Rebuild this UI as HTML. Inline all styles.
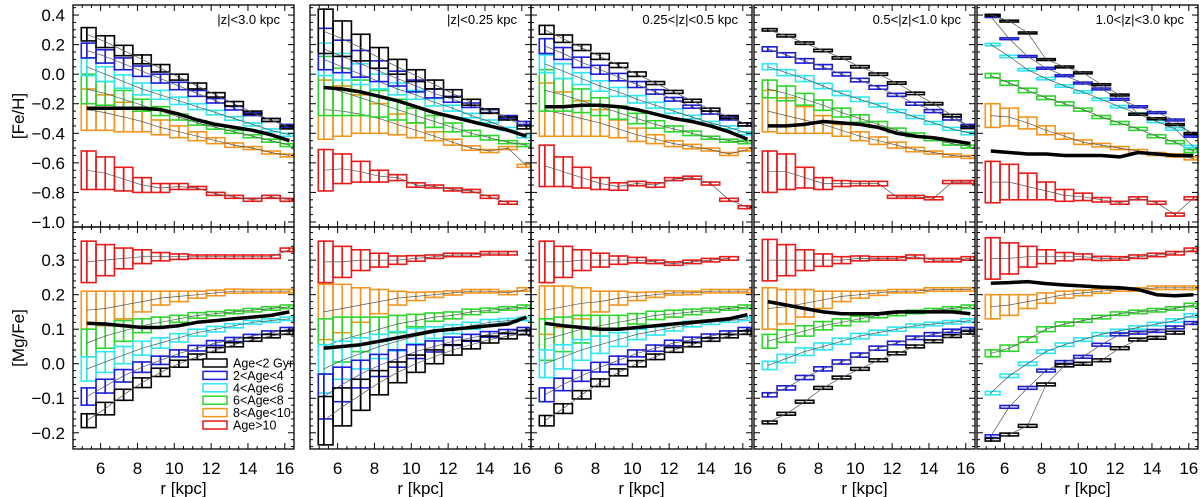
<!DOCTYPE html>
<html><head><meta charset="utf-8"><style>
body{margin:0;background:#fff;}
svg{display:block;font-family:"Liberation Sans",sans-serif;}
</style></head><body>
<svg id="chart" width="1200" height="497" viewBox="0 0 1200 497" xmlns="http://www.w3.org/2000/svg">
<text x="0" y="0" transform="translate(24,116) rotate(-90)" text-anchor="middle" font-size="17">[Fe/H]</text>
<text x="0" y="0" transform="translate(24,338) rotate(-90)" text-anchor="middle" font-size="17">[Mg/Fe]</text>
<g id="plots"></g>
</svg>
<script>
const radii = [5,6,7,8,9,10,11,12,13,14,15,16];
const seriesNames = ["Age<2 Gyr","2<Age<4","4<Age<6","6<Age<8","8<Age<10","Age>10"];
const seriesColors = ["#000000","#1c1cd8","#30e6f0","#2ed62e","#f29620","#e81a1a"];
const panelLabels = ["|z|<3.0 kpc","|z|<0.25 kpc","0.25<|z|<0.5 kpc","0.5<|z|<1.0 kpc","1.0<|z|<3.0 kpc"];
const xTicks = [6,8,10,12,14,16];
const fehTicks = [0.4,0.2,0.0,-0.2,-0.4,-0.6,-0.8,-1.0];
const fehTickLabels = ["0.4","0.2","0.0","\u22120.2","\u22120.4","\u22120.6","\u22120.8","\u22121.0"];
const mgTicks = [0.3,0.2,0.1,0.0,-0.1,-0.2];
const mgTickLabels = ["0.3","0.2","0.1","0.0","\u22120.1","\u22120.2"];

const fehMean1 = [
 [0.27,0.22,0.16,0.10,0.04,-0.02,-0.08,-0.14,-0.2,-0.26,-0.31,-0.36],
 [0.16,0.12,0.07,0.02,-0.03,-0.08,-0.13,-0.18,-0.23,-0.27,-0.31,-0.35],
 [0.05,0.0,-0.05,-0.1,-0.14,-0.18,-0.22,-0.26,-0.3,-0.34,-0.38,-0.41],
 [-0.1,-0.13,-0.17,-0.21,-0.25,-0.29,-0.33,-0.36,-0.39,-0.42,-0.45,-0.48],
 [-0.24,-0.26,-0.29,-0.32,-0.36,-0.39,-0.42,-0.45,-0.48,-0.5,-0.53,-0.55],
 [-0.65,-0.67,-0.71,-0.75,-0.77,-0.76,-0.77,-0.81,-0.83,-0.85,-0.83,-0.85]];
const fehErr1 = [
 [0.045,0.04,0.035,0.03,0.025,0.02,0.02,0.015,0.015,0.01,0.01,0.01],
 [0.05,0.045,0.04,0.035,0.03,0.025,0.02,0.015,0.012,0.01,0.01,0.01],
 [0.06,0.05,0.045,0.04,0.03,0.025,0.02,0.015,0.012,0.01,0.01,0.01],
 [0.1,0.08,0.06,0.04,0.03,0.02,0.015,0.012,0.01,0.01,0.01,0.01],
 [0.14,0.12,0.1,0.07,0.05,0.04,0.03,0.02,0.015,0.01,0.01,0.01],
 [0.13,0.11,0.08,0.05,0.03,0.02,0.01,0.01,0.01,0.01,0.01,0.01]];
const fehAll1 = [-0.23,-0.23,-0.23,-0.23,-0.24,-0.27,-0.31,-0.34,-0.36,-0.38,-0.41,-0.45];

const fehMean2 = [
 [0.29,0.24,0.18,0.11,0.05,-0.01,-0.07,-0.13,-0.19,-0.25,-0.3,-0.36],
 [0.17,0.12,0.07,0.02,-0.03,-0.08,-0.13,-0.17,-0.21,-0.25,-0.29,-0.33],
 [0.1,0.05,0.0,-0.05,-0.1,-0.14,-0.19,-0.23,-0.28,-0.32,-0.37,-0.42],
 [-0.08,-0.12,-0.16,-0.2,-0.24,-0.28,-0.32,-0.36,-0.4,-0.43,-0.46,-0.48],
 [-0.24,-0.25,-0.27,-0.3,-0.34,-0.38,-0.42,-0.46,-0.5,-0.52,-0.5,-0.62],
 [-0.65,-0.64,-0.66,-0.69,-0.7,-0.75,-0.76,-0.78,-0.79,-0.83,-0.87,null]];
const fehErr2 = [
 [0.15,0.12,0.09,0.07,0.05,0.04,0.03,0.025,0.02,0.015,0.01,0.01],
 [0.14,0.11,0.09,0.07,0.05,0.04,0.03,0.02,0.015,0.01,0.01,0.01],
 [0.11,0.09,0.07,0.05,0.04,0.03,0.025,0.02,0.015,0.01,0.01,0.01],
 [0.2,0.16,0.12,0.09,0.07,0.05,0.04,0.03,0.02,0.015,0.01,0.01],
 [0.2,0.17,0.13,0.1,0.07,0.05,0.03,0.02,0.015,0.01,0.01,0.01],
 [0.14,0.1,0.07,0.04,0.02,0.015,0.01,0.01,0.01,0.01,0.01,0.01]];
const fehAll2 = [-0.09,-0.1,-0.12,-0.15,-0.18,-0.22,-0.26,-0.29,-0.32,-0.35,-0.38,-0.42];

const fehMean3 = [
 [0.3,0.24,0.18,0.12,0.06,0.0,-0.06,-0.12,-0.18,-0.24,-0.29,-0.34],
 [0.19,0.14,0.08,0.03,-0.02,-0.07,-0.12,-0.17,-0.22,-0.26,-0.3,-0.34],
 [0.07,0.02,-0.03,-0.08,-0.12,-0.17,-0.21,-0.25,-0.29,-0.33,-0.36,-0.4],
 [-0.11,-0.14,-0.18,-0.22,-0.26,-0.3,-0.34,-0.37,-0.4,-0.43,-0.45,-0.46],
 [-0.24,-0.27,-0.3,-0.33,-0.37,-0.41,-0.44,-0.47,-0.49,-0.51,-0.54,-0.51],
 [-0.62,-0.66,-0.7,-0.74,-0.76,-0.74,-0.75,-0.71,-0.7,-0.74,-0.85,-0.9]];
const fehErr3 = [
 [0.03,0.025,0.02,0.02,0.015,0.015,0.01,0.01,0.01,0.01,0.01,0.01],
 [0.05,0.04,0.035,0.03,0.025,0.02,0.015,0.012,0.01,0.01,0.01,0.01],
 [0.06,0.05,0.04,0.035,0.03,0.025,0.02,0.015,0.012,0.01,0.01,0.01],
 [0.14,0.11,0.08,0.06,0.045,0.035,0.025,0.02,0.015,0.01,0.01,0.01],
 [0.18,0.15,0.12,0.09,0.06,0.045,0.03,0.02,0.015,0.01,0.01,0.01],
 [0.14,0.1,0.07,0.04,0.025,0.015,0.015,0.01,0.01,0.01,0.01,0.01]];
const fehAll3 = [-0.22,-0.22,-0.21,-0.21,-0.22,-0.24,-0.27,-0.3,-0.32,-0.35,-0.39,-0.44];

const fehMean4 = [
 [0.3,0.26,0.21,0.16,0.11,0.05,0.0,-0.06,-0.13,-0.2,-0.28,-0.36],
 [0.17,0.13,0.09,0.05,0.0,-0.04,-0.09,-0.14,-0.2,-0.25,-0.3,-0.35],
 [0.05,0.01,-0.03,-0.08,-0.13,-0.17,-0.21,-0.25,-0.29,-0.33,-0.37,-0.4],
 [-0.1,-0.13,-0.17,-0.21,-0.26,-0.3,-0.34,-0.38,-0.41,-0.44,-0.47,-0.49],
 [-0.25,-0.28,-0.31,-0.34,-0.38,-0.42,-0.45,-0.48,-0.51,-0.53,-0.55,-0.56],
 [-0.66,-0.66,-0.7,-0.74,-0.74,-0.74,-0.74,-0.83,-0.83,-0.84,-0.73,-0.73]];
const fehErr4 = [
 [0.008,0.008,0.008,0.008,0.008,0.008,0.008,0.008,0.008,0.008,0.008,0.008],
 [0.015,0.015,0.015,0.015,0.012,0.012,0.012,0.01,0.01,0.01,0.01,0.01],
 [0.02,0.02,0.02,0.018,0.015,0.015,0.012,0.01,0.01,0.01,0.01,0.01],
 [0.06,0.05,0.04,0.035,0.03,0.025,0.02,0.015,0.012,0.01,0.01,0.01],
 [0.14,0.12,0.09,0.06,0.04,0.03,0.025,0.02,0.015,0.01,0.01,0.01],
 [0.14,0.12,0.07,0.04,0.02,0.015,0.015,0.01,0.01,0.01,0.01,0.01]];
const fehAll4 = [-0.35,-0.35,-0.34,-0.32,-0.33,-0.34,-0.36,-0.4,-0.42,-0.43,-0.45,-0.47];

const fehMean5 = [
 [0.4,0.36,0.28,0.1,0.05,0.01,-0.07,-0.14,-0.27,-0.3,-0.34,-0.4],
 [0.39,0.24,0.12,0.04,-0.01,-0.06,-0.1,-0.17,-0.22,-0.26,-0.31,-0.42],
 [0.2,0.12,0.03,-0.03,-0.08,-0.12,-0.17,-0.22,-0.27,-0.32,-0.37,-0.49],
 [-0.01,-0.06,-0.11,-0.16,-0.2,-0.24,-0.29,-0.33,-0.37,-0.42,-0.46,-0.52],
 [-0.28,-0.29,-0.33,-0.38,-0.42,-0.46,-0.48,-0.5,-0.52,-0.54,-0.55,-0.57],
 [-0.73,-0.73,-0.76,-0.79,-0.82,-0.83,-0.85,-0.87,-0.84,-0.87,-0.95,-0.84]];
const fehErr5 = [
 [0.005,0.005,0.005,0.005,0.005,0.005,0.005,0.005,0.005,0.005,0.005,0.005],
 [0.006,0.006,0.006,0.006,0.006,0.006,0.006,0.006,0.006,0.006,0.006,0.006],
 [0.008,0.008,0.008,0.008,0.008,0.008,0.008,0.008,0.008,0.008,0.008,0.008],
 [0.015,0.015,0.015,0.012,0.012,0.01,0.01,0.01,0.01,0.01,0.01,0.01],
 [0.08,0.06,0.04,0.03,0.02,0.015,0.012,0.01,0.01,0.01,0.01,0.01],
 [0.14,0.12,0.09,0.06,0.04,0.025,0.015,0.01,0.01,0.01,0.01,0.01]];
const fehAll5 = [-0.52,-0.53,-0.54,-0.54,-0.55,-0.55,-0.55,-0.56,-0.53,-0.54,-0.55,-0.55];

const mgMean1 = [
 [-0.165,-0.13,-0.09,-0.055,-0.025,0.0,0.02,0.04,0.055,0.07,0.08,0.09],
 [-0.095,-0.065,-0.035,-0.01,0.01,0.03,0.045,0.06,0.07,0.08,0.09,0.1],
 [-0.015,0.005,0.025,0.045,0.06,0.075,0.09,0.1,0.11,0.12,0.125,0.13],
 [0.06,0.08,0.095,0.11,0.12,0.13,0.14,0.145,0.15,0.155,0.16,0.165],
 [0.155,0.16,0.17,0.18,0.19,0.195,0.2,0.205,0.21,0.21,0.21,0.21],
 [0.295,0.3,0.305,0.31,0.31,0.31,0.31,0.31,0.31,0.31,0.31,0.33]];
const mgErr1 = [
 [0.02,0.018,0.016,0.014,0.012,0.01,0.008,0.007,0.006,0.005,0.005,0.005],
 [0.025,0.02,0.018,0.015,0.012,0.01,0.008,0.007,0.006,0.005,0.005,0.005],
 [0.035,0.03,0.025,0.02,0.015,0.012,0.01,0.008,0.006,0.005,0.005,0.005],
 [0.04,0.035,0.03,0.02,0.015,0.01,0.008,0.006,0.005,0.005,0.005,0.005],
 [0.055,0.05,0.04,0.03,0.02,0.015,0.01,0.008,0.006,0.005,0.005,0.005],
 [0.06,0.045,0.03,0.02,0.012,0.008,0.005,0.005,0.005,0.005,0.005,0.005]];
const mgAll1 = [0.117,0.115,0.11,0.105,0.105,0.11,0.12,0.125,0.13,0.135,0.14,0.15];

const mgMean2 = [
 [-0.165,-0.125,-0.09,-0.055,-0.025,0.0,0.02,0.04,0.055,0.07,0.08,0.09],
 [-0.095,-0.06,-0.03,-0.005,0.015,0.035,0.05,0.065,0.075,0.085,0.093,0.1],
 [-0.015,0.01,0.03,0.05,0.065,0.08,0.09,0.1,0.11,0.12,0.125,0.13],
 [0.05,0.07,0.085,0.1,0.115,0.125,0.135,0.14,0.15,0.155,0.16,0.165],
 [0.15,0.16,0.17,0.18,0.19,0.195,0.2,0.205,0.21,0.21,0.205,0.215],
 [0.295,0.295,0.3,0.3,0.3,0.305,0.31,0.315,0.315,0.32,0.32,null]];
const mgErr2 = [
 [0.07,0.055,0.045,0.035,0.03,0.025,0.02,0.015,0.012,0.01,0.008,0.006],
 [0.065,0.05,0.04,0.032,0.025,0.02,0.016,0.012,0.01,0.008,0.006,0.005],
 [0.07,0.055,0.045,0.035,0.028,0.022,0.017,0.013,0.01,0.008,0.006,0.005],
 [0.08,0.065,0.05,0.035,0.025,0.018,0.012,0.01,0.008,0.006,0.005,0.005],
 [0.08,0.07,0.05,0.035,0.02,0.012,0.008,0.006,0.005,0.005,0.005,0.005],
 [0.06,0.045,0.03,0.02,0.012,0.008,0.005,0.005,0.005,0.005,0.005,0.005]];
const mgAll2 = [0.045,0.05,0.055,0.065,0.075,0.085,0.095,0.1,0.105,0.11,0.115,0.135];

const mgMean3 = [
 [-0.165,-0.13,-0.09,-0.055,-0.025,0.0,0.02,0.04,0.055,0.07,0.08,0.09],
 [-0.09,-0.06,-0.035,-0.01,0.01,0.03,0.045,0.06,0.07,0.08,0.09,0.1],
 [0.0,0.02,0.04,0.055,0.07,0.085,0.095,0.105,0.115,0.12,0.125,0.13],
 [0.07,0.085,0.1,0.11,0.12,0.13,0.14,0.145,0.15,0.155,0.16,0.165],
 [0.155,0.165,0.175,0.18,0.19,0.195,0.2,0.205,0.205,0.21,0.21,0.21],
 [0.295,0.295,0.3,0.3,0.3,0.3,0.295,0.29,0.295,0.3,0.305,null]];
const mgErr3 = [
 [0.015,0.014,0.012,0.011,0.01,0.009,0.008,0.007,0.006,0.005,0.005,0.005],
 [0.02,0.018,0.016,0.014,0.012,0.01,0.009,0.008,0.007,0.006,0.005,0.005],
 [0.04,0.035,0.03,0.025,0.02,0.015,0.012,0.01,0.008,0.006,0.005,0.005],
 [0.06,0.05,0.04,0.03,0.02,0.015,0.012,0.01,0.008,0.006,0.005,0.005],
 [0.07,0.06,0.045,0.03,0.02,0.012,0.008,0.006,0.005,0.005,0.005,0.005],
 [0.06,0.045,0.03,0.02,0.012,0.008,0.005,0.005,0.005,0.005,0.005,0.005]];
const mgAll3 = [0.117,0.11,0.105,0.1,0.1,0.105,0.11,0.115,0.12,0.125,0.13,0.142];

const mgMean4 = [
 [-0.17,-0.145,-0.11,-0.07,-0.04,-0.015,0.01,0.03,0.05,0.065,0.08,0.09],
 [-0.09,-0.07,-0.04,-0.015,0.005,0.025,0.045,0.06,0.075,0.085,0.095,0.1],
 [-0.005,0.015,0.035,0.05,0.065,0.08,0.09,0.1,0.11,0.115,0.12,0.125],
 [0.065,0.08,0.095,0.11,0.12,0.13,0.14,0.145,0.15,0.155,0.16,0.165],
 [0.16,0.165,0.175,0.185,0.195,0.2,0.205,0.21,0.21,0.215,0.215,0.215],
 [0.3,0.3,0.3,0.3,0.3,0.305,0.305,0.305,0.31,0.3,0.3,0.305]];
const mgErr4 = [
 [0.004,0.004,0.004,0.004,0.004,0.004,0.004,0.004,0.004,0.004,0.004,0.004],
 [0.006,0.006,0.006,0.006,0.006,0.006,0.006,0.005,0.005,0.005,0.005,0.005],
 [0.012,0.012,0.011,0.01,0.009,0.008,0.007,0.006,0.005,0.005,0.005,0.005],
 [0.02,0.018,0.015,0.012,0.01,0.008,0.007,0.006,0.005,0.005,0.005,0.005],
 [0.06,0.05,0.04,0.025,0.015,0.01,0.007,0.005,0.005,0.005,0.005,0.005],
 [0.06,0.045,0.03,0.018,0.01,0.007,0.005,0.005,0.005,0.005,0.005,0.005]];
const mgAll4 = [0.18,0.17,0.16,0.15,0.145,0.145,0.145,0.15,0.15,0.15,0.15,0.145];

const mgMean5 = [
 [-0.22,-0.205,-0.18,-0.06,-0.005,0.0,0.01,0.045,0.07,0.075,0.09,null],
 [-0.21,-0.125,-0.07,-0.02,0.005,0.02,0.055,0.085,0.09,0.095,0.105,0.118],
 [-0.085,-0.035,0.0,0.035,0.055,0.07,0.085,0.095,0.105,0.115,0.125,0.14],
 [0.03,0.045,0.07,0.1,0.115,0.125,0.135,0.145,0.15,0.155,0.16,0.17],
 [0.165,0.17,0.18,0.19,0.2,0.205,0.21,0.215,0.215,0.22,0.22,0.22],
 [0.305,0.305,0.31,0.31,0.31,0.31,0.305,0.305,0.31,0.315,0.32,0.33]];
const mgErr5 = [
 [0.004,0.004,0.004,0.004,0.004,0.004,0.004,0.004,0.004,0.004,0.004,0.004],
 [0.004,0.004,0.004,0.004,0.004,0.004,0.004,0.004,0.004,0.004,0.004,0.004],
 [0.005,0.005,0.005,0.005,0.005,0.005,0.005,0.005,0.005,0.005,0.005,0.005],
 [0.01,0.009,0.008,0.007,0.006,0.005,0.005,0.005,0.005,0.005,0.005,0.005],
 [0.035,0.03,0.02,0.015,0.01,0.008,0.006,0.005,0.005,0.005,0.005,0.005],
 [0.06,0.045,0.03,0.02,0.012,0.008,0.006,0.005,0.005,0.005,0.005,0.005]];
const mgAll5 = [0.233,0.235,0.238,0.232,0.228,0.225,0.222,0.22,0.215,0.2,0.197,0.2];

const fehMeans=[fehMean1,fehMean2,fehMean3,fehMean4,fehMean5];
const fehErrs=[fehErr1,fehErr2,fehErr3,fehErr4,fehErr5];
const fehAlls=[fehAll1,fehAll2,fehAll3,fehAll4,fehAll5];
const mgMeans=[mgMean1,mgMean2,mgMean3,mgMean4,mgMean5];
const mgErrs=[mgErr1,mgErr2,mgErr3,mgErr4,mgErr5];
const mgAlls=[mgAll1,mgAll2,mgAll3,mgAll4,mgAll5];

const NS="http://www.w3.org/2000/svg";
const root=document.getElementById('plots');
const panelLefts=[73,310,531,754,977];
const panelW=221;
const rows=[{top:5,bot:227,vmin:-1.034,vmax:0.468},{top:227,bot:449,vmin:-0.247,vmax:0.396}];
function mk(tag,attrs,parent){const e=document.createElementNS(NS,tag);for(const k in attrs)e.setAttribute(k,attrs[k]);(parent||root).appendChild(e);return e;}
function xs(p,r){return panelLefts[p]+(r-4.5)/12*panelW;}
function ys(row,v){const R=rows[row];return R.bot-(v-R.vmin)/(R.vmax-R.vmin)*(R.bot-R.top);}

function drawPanel(p,row){
  const g=mk('g',{});
  
  
  const means=row===0?fehMeans[p]:mgMeans[p];
  const errs=row===0?fehErrs[p]:mgErrs[p];
  const all=row===0?fehAlls[p]:mgAlls[p];
  for(let s=means.length-1;s>=0;s--){
    const sg=mk('g',{},g);
    
    
    let pts=[];
    radii.forEach((r,i)=>{
      const m=means[s][i]; if(m===null||m===undefined) return;
      const e=errs[s][i];
      const yt=ys(row,m+e), yb=ys(row,m-e);
      [r-0.25, r+0.25].forEach(a=>{
        const b=Math.min(16.45,a+0.5); if(b<=a) return;
        const x0=xs(p,Math.max(4.95,a)), x1=xs(p,b);
        const rect=mk('rect',{x:x0,y:yt,width:x1-x0,height:Math.max(1.8,yb-yt),fill:'none',stroke:seriesColors[s],'stroke-width':1.6},sg);
        
        
      });
      pts.push(xs(p,r+0.25).toFixed(1)+','+ys(row,m).toFixed(1));
    });
    const pl=mk('polyline',{points:pts.join(' '),fill:'none',stroke:'#555','stroke-width':0.7},sg);
    
    
  }
  const ap=radii.map((r,i)=>xs(p,r+0.25).toFixed(1)+','+ys(row,all[i]).toFixed(1)).join(' ');
  const thick=mk('polyline',{points:ap,fill:'none',stroke:'#000','stroke-width':3.5,'stroke-linejoin':'round'},g);
  
  
  const R=rows[row], L=panelLefts[p], Rt=L+panelW;
  const fr=mk('rect',{x:L,y:R.top,width:panelW,height:R.bot-R.top,fill:'none',stroke:'#000','stroke-width':1.3},g);
  
  
  for(let r=5;r<=16.01;r+=0.5){
    const x=xs(p,r), major=(r%2===0), len=major?6:3;
    mk('line',{x1:x,y1:R.bot,x2:x,y2:R.bot-len,stroke:'#000','stroke-width':1},g);
    mk('line',{x1:x,y1:R.top,x2:x,y2:R.top+len,stroke:'#000','stroke-width':1},g);
  }
  const step=row===0?0.05:0.02, ticks=row===0?fehTicks:mgTicks;
  for(let v=Math.ceil(R.vmin/step)*step; v<=R.vmax; v+=step){
    const y=ys(row,v);
    const major=ticks.some(t=>Math.abs(t-v)<1e-6), len=major?6:3;
    mk('line',{x1:L,y1:y,x2:L+len,y2:y,stroke:'#000','stroke-width':1},g);
    mk('line',{x1:Rt,y1:y,x2:Rt-len,y2:y,stroke:'#000','stroke-width':1},g);
  }
  if(p===0){
    ticks.forEach((t,i)=>{
      const tx=mk('text',{x:L-8,y:ys(row,t)+6,'text-anchor':'end','font-size':17},g);
      tx.textContent=(row===0?fehTickLabels:mgTickLabels)[i];
      
      
    });
  }
  if(row===1){
    xTicks.forEach(t=>{
      const tx=mk('text',{x:xs(p,t),y:474,'text-anchor':'middle','font-size':17},g);
      tx.textContent=String(t);
      
      
    });
    const xt=mk('text',{x:L+panelW/2,y:494,'text-anchor':'middle','font-size':17},g);
    xt.textContent='r  [kpc]';
    
    
  } else {
    const lab=mk('text',{x:Rt-14,y:24,'text-anchor':'end','font-size':13},g);
    lab.textContent=panelLabels[p];
    
    
  }
}
for(let p=0;p<5;p++){drawPanel(p,0);drawPanel(p,1);}
const lg=mk('g',{});


seriesNames.forEach((n,i)=>{
  const y=363+i*12.4;
  const ent=mk('g',{},lg);
  
  
  mk('rect',{x:203,y:y-4,width:24,height:8,fill:'#fff',stroke:seriesColors[i],'stroke-width':1.5},ent);
  const t=mk('text',{x:233,y:y+4.5,'font-size':12.5},ent);
  t.textContent=n;
});
</script>
</body></html>
